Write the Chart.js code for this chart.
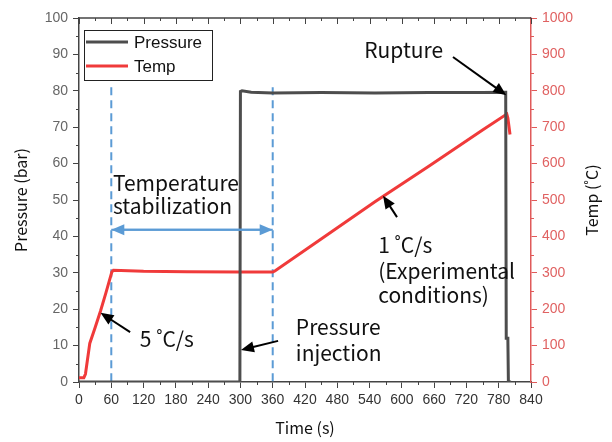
<!DOCTYPE html>
<html>
<head>
<meta charset="utf-8">
<script src="https://cdn.jsdelivr.net/npm/chart.js@4"></script>
<style>
  html, body { margin: 0; padding: 0; background: #fff; }
  #wrap { width: 612px; height: 442px; }
</style>
</head>
<body>
<div id="wrap"><canvas id="chart" width="612" height="442"></canvas></div>
<script>
// Datos
const timePressure = [0, 299, 300, 303, 320, 360, 450, 550, 650, 750, 793, 794, 797, 798, 803];
const pressure     = [0, 0, 79.8, 80.0, 79.6, 79.4, 79.5, 79.4, 79.5, 79.5, 79.6, 12, 12, 0, 0];

const timeTemp = [0, 9, 12, 20, 30, 40, 50, 61, 64, 120, 200, 300, 360, 364, 450, 550, 650, 750, 795, 797, 801];
const temp     = [12, 12, 22, 106, 150, 195, 245, 302, 307, 304, 303, 302, 302, 305, 393, 495, 593, 692, 736, 725, 680];

const xTicks = [0, 840, 60];
const pressureTicks = [0, 100, 10];
const tempTicks = [0, 1000, 100];

const seriesNames = ["Pressure", "Temp"];
const seriesColors = ["#4d4d4d", "#f03a3a"];

const blue = "#5b9bd5";
const labelFont = "'Noto Sans CJK KR', 'Open Sans', sans-serif";
const tickFont = "'Liberation Sans', Arial, sans-serif";

function toPoints(xs, ys) {
  return xs.map((x, i) => ({ x: x, y: ys[i] }));
}

function arrow(ctx, x1, y1, x2, y2, color, headBoth) {
  const ang = Math.atan2(y2 - y1, x2 - x1);
  const hl = 13, hw = 5.5;
  ctx.save();
  ctx.strokeStyle = color;
  ctx.fillStyle = color;
  ctx.lineWidth = 2;
  ctx.beginPath();
  ctx.moveTo(x1, y1);
  ctx.lineTo(x2 - Math.cos(ang) * hl * 0.8, y2 - Math.sin(ang) * hl * 0.8);
  ctx.stroke();
  const head = (hx, hy, a) => {
    ctx.beginPath();
    ctx.moveTo(hx, hy);
    ctx.lineTo(hx - Math.cos(a) * hl - Math.sin(a) * hw, hy - Math.sin(a) * hl + Math.cos(a) * hw);
    ctx.lineTo(hx - Math.cos(a) * hl + Math.sin(a) * hw, hy - Math.sin(a) * hl - Math.cos(a) * hw);
    ctx.closePath();
    ctx.fill();
  };
  head(x2, y2, ang);
  if (headBoth) {
    ctx.beginPath();
    ctx.moveTo(x2, y2);
    ctx.lineTo(x1 + Math.cos(ang) * hl * 0.8, y1 + Math.sin(ang) * hl * 0.8);
    ctx.stroke();
    head(x1, y1, ang + Math.PI);
  }
  ctx.restore();
}

// Anotaciones, ticks menores, marco y leyenda
const decorPlugin = {
  id: "decor",
  beforeDatasetsDraw(chart) {
    const { ctx, scales } = chart;
    const x = scales.x, y = scales.y;
    ctx.save();
    // líneas discontinuas verticales
    ctx.strokeStyle = blue;
    ctx.lineWidth = 2;
    ctx.setLineDash([8, 5]);
    [60, 360].forEach(t => {
      ctx.beginPath();
      ctx.moveTo(x.getPixelForValue(t), y.getPixelForValue(81));
      ctx.lineTo(x.getPixelForValue(t), y.getPixelForValue(0));
      ctx.stroke();
    });
    ctx.restore();
  },
  afterDraw(chart) {
    const { ctx, chartArea: a, scales } = chart;
    const x = scales.x, y = scales.y, y1 = scales.y1;
    ctx.save();

    // marco superior
    ctx.strokeStyle = "#444";
    ctx.lineWidth = 1.5;
    ctx.beginPath();
    ctx.moveTo(a.left, a.top);
    ctx.lineTo(a.right, a.top);
    ctx.stroke();

    // ticks eje x (superior hacia dentro, menores abajo)
    ctx.lineWidth = 1;
    for (let v = 0; v <= 840; v += 30) {
      const px = Math.round(x.getPixelForValue(v)) + 0.5;
      const major = v % 60 === 0;
      ctx.beginPath();
      ctx.moveTo(px, a.top);
      ctx.lineTo(px, a.top + (major ? 6 : 3));
      if (!major) {
        ctx.moveTo(px, a.bottom);
        ctx.lineTo(px, a.bottom + 3);
      }
      ctx.stroke();
    }
    for (let v = 5; v < 100; v += 10) {
      const py = Math.round(y.getPixelForValue(v)) + 0.5;
      ctx.beginPath();
      ctx.moveTo(a.left, py);
      ctx.lineTo(a.left - 3, py);
      ctx.stroke();
    }
    ctx.strokeStyle = "#e05a5a";
    for (let v = 50; v < 1000; v += 100) {
      const py = Math.round(y1.getPixelForValue(v)) + 0.5;
      ctx.beginPath();
      ctx.moveTo(a.right, py);
      ctx.lineTo(a.right + 3, py);
      ctx.stroke();
    }

    // títulos de ejes
    ctx.fillStyle = "#111";
    ctx.font = "16px " + labelFont;
    ctx.textAlign = "center";
    ctx.textBaseline = "middle";
    ctx.fillText("Time (s)", (a.left + a.right) / 2, 428);
    ctx.save();
    ctx.translate(21, (a.top + a.bottom) / 2);
    ctx.rotate(-Math.PI / 2);
    ctx.fillText("Pressure (bar)", 0, 0);
    ctx.restore();
    ctx.save();
    ctx.translate(592, (a.top + a.bottom) / 2);
    ctx.rotate(-Math.PI / 2);
    ctx.fillText("Temp (˚C)", 0, 0);
    ctx.restore();

    // textos de anotación
    const X = t => x.getPixelForValue(t);
    const Y = b => y.getPixelForValue(b);
    ctx.textAlign = "left";
    ctx.textBaseline = "alphabetic";
    ctx.font = "21px " + labelFont;
    ctx.fillStyle = "#111";
    const texts = [
      ["Temperature", 63, 52.5],
      ["stabilization", 63, 46.2],
      ["Rupture", 530, 89.0],
      ["1 ˚C/s", 556, 35.4],
      ["(Experimental", 556, 28.3],
      ["conditions)", 556, 21.6],
      ["Pressure", 403, 12.9],
      ["injection", 403, 5.8],
      ["5 ˚C/s", 113, 9.6]
    ];
    texts.forEach(([s, t, b]) => ctx.fillText(s, X(t), Y(b)));

    // flechas
    arrow(ctx, X(60), Y(41.8), X(360), Y(41.8), blue, true);
    arrow(ctx, X(695), Y(89.3), X(794), Y(78.8), "#000");
    arrow(ctx, X(591), Y(45.3), X(565), Y(51.2), "#000");
    arrow(ctx, X(95), Y(13.7), X(40), Y(19.0), "#000");
    arrow(ctx, X(370), Y(11.3), X(301), Y(8.8), "#000");

    // leyenda
    const lx = 84, ly = 30, lw = 128, lh = 50;
    ctx.fillStyle = "#fff";
    ctx.fillRect(lx, ly, lw, lh);
    ctx.strokeStyle = "#222";
    ctx.lineWidth = 1;
    ctx.strokeRect(lx + 0.5, ly + 0.5, lw, lh);
    ctx.font = "17px " + tickFont;
    ctx.textBaseline = "middle";
    chart.data.datasets.forEach((ds, i) => {
      const yy = ly + 12 + i * 24;
      ctx.strokeStyle = ds.borderColor;
      ctx.lineWidth = 3;
      ctx.beginPath();
      ctx.moveTo(lx + 2, yy);
      ctx.lineTo(lx + 44, yy);
      ctx.stroke();
      ctx.fillStyle = "#111";
      ctx.fillText(ds.label, lx + 50, yy + 1);
    });
    ctx.restore();
  }
};

const plain = v => String(v);

new Chart(document.getElementById("chart"), {
  type: "line",
  data: {
    datasets: [
      {
        label: seriesNames[0],
        data: toPoints(timePressure, pressure),
        yAxisID: "y",
        borderColor: seriesColors[0],
        borderWidth: 3,
        pointRadius: 0,
        tension: 0
      },
      {
        label: seriesNames[1],
        data: toPoints(timeTemp, temp),
        yAxisID: "y1",
        borderColor: seriesColors[1],
        borderWidth: 3,
        pointRadius: 0,
        tension: 0
      }
    ]
  },
  options: {
    responsive: false,
    animation: false,
    layout: { padding: { top: 18, left: 0, right: 0, bottom: 0 } },
    plugins: { legend: { display: false }, tooltip: { enabled: false } },
    scales: {
      x: {
        type: "linear",
        min: xTicks[0], max: xTicks[1],
        ticks: { stepSize: xTicks[2], callback: plain, color: "#333", font: { size: 14, family: tickFont }, padding: 4, maxRotation: 0 },
        grid: { drawOnChartArea: false, tickLength: 6, color: "#444" },
        border: { color: "#444", width: 1.5 },
        afterFit: s => { s.height = 60; }
      },
      y: {
        position: "left",
        min: pressureTicks[0], max: pressureTicks[1],
        ticks: { stepSize: pressureTicks[2], callback: plain, color: "#666", font: { size: 14, family: tickFont }, padding: 5 },
        grid: { drawOnChartArea: false, tickLength: 6, color: "#444" },
        border: { color: "#444", width: 1.5 },
        afterFit: s => { s.width = 79; }
      },
      y1: {
        position: "right",
        min: tempTicks[0], max: tempTicks[1],
        ticks: { stepSize: tempTicks[2], callback: plain, color: "#e06262", font: { size: 14, family: tickFont }, padding: 5 },
        grid: { drawOnChartArea: false, tickLength: 6, color: "#e05a5a" },
        border: { color: "#e05a5a", width: 1.5 },
        afterFit: s => { s.width = 81; }
      }
    }
  },
  plugins: [decorPlugin]
});
</script>
</body>
</html>
